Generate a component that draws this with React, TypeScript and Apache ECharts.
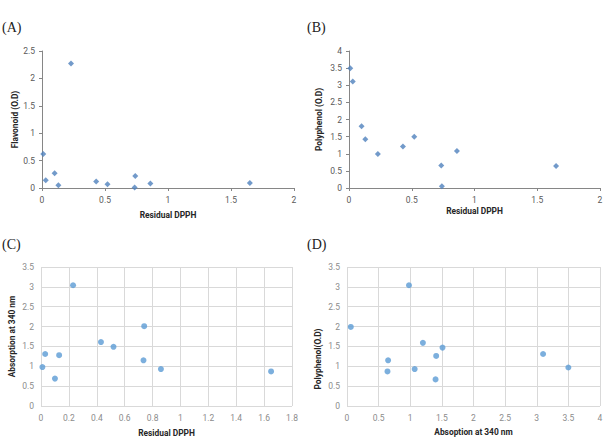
import React, { useEffect, useRef } from "react";
import * as echarts from "echarts";

const residualDPPH = [0.01, 0.03, 0.10, 0.13, 0.23, 0.43, 0.52, 0.735, 0.74, 0.86, 1.65];
const flavonoidOD = [0.62, 0.14, 0.27, 0.05, 2.27, 0.12, 0.07, 0.01, 0.22, 0.08, 0.09];
const polyphenolOD = [3.5, 3.11, 1.8, 1.42, 0.99, 1.21, 1.5, 0.66, 0.05, 1.08, 0.64];
const absorption340 = [0.98, 1.31, 0.69, 1.28, 3.04, 1.61, 1.49, 1.15, 2.01, 0.93, 0.87];
const absorptionD = [0.06, 0.65, 0.64, 0.98, 1.07, 1.2, 1.41, 1.4, 1.51, 3.1, 3.5];
const polyphenolD = [1.99, 1.15, 0.87, 3.04, 0.93, 1.59, 1.26, 0.67, 1.47, 1.31, 0.97];
const panelLabels = ["(A)", "(B)", "(C)", "(D)"];

const zip = (xs: number[], ys: number[]) => xs.map((x, i) => [x, ys[i]]);

const FONT = "'Liberation Sans Narrow', 'Roboto', 'Liberation Sans', sans-serif";

export default function App() {
  const ref = useRef<HTMLDivElement>(null);
  useEffect(() => {
    if (!ref.current) return;
    const chart = echarts.init(ref.current, undefined, { renderer: "svg" });

    const nameStyle = { fontFamily: FONT, fontWeight: "bold" as const, fontSize: 8.4, color: "#262626" };
    const oldLabel = { fontFamily: FONT, fontSize: 8.5, color: "#595959" };
    const newLabel = { fontFamily: FONT, fontSize: 8.5, color: "#8c8c8c" };

    const oldAxis = (gi: number, max: number, interval: number, name: string, gap: number) => ({
      type: "value", gridIndex: gi, min: 0, max, interval, name, nameLocation: "middle", nameGap: gap,
      nameTextStyle: nameStyle,
      axisLine: { show: true, lineStyle: { color: "#868686", width: 1 } },
      axisTick: { show: true, inside: false, length: 3, lineStyle: { color: "#868686" } },
      axisLabel: { ...oldLabel, margin: 7 },
      splitLine: { show: false },
    });
    const newAxis = (gi: number, max: number, interval: number, name: string, gap: number) => ({
      type: "value", gridIndex: gi, min: 0, max, interval, name, nameLocation: "middle", nameGap: gap,
      nameTextStyle: nameStyle,
      axisLine: { show: false },
      axisTick: { show: false },
      axisLabel: { ...newLabel, margin: 7 },
      splitLine: { show: true, lineStyle: { color: "#d9d9d9", width: 1 } },
    });

    const labelPos = [
      [2, 27],
      [307, 27],
      [2, 244],
      [307, 244],
    ];

    chart.setOption({
      animation: false,
      backgroundColor: "#ffffff",
      grid: [
        { left: 42, top: 51, width: 252, height: 137 },
        { left: 349, top: 51, width: 251, height: 137 },
        { left: 41, top: 267, width: 251, height: 139 },
        { left: 347, top: 267, width: 253, height: 139 },
      ],
      xAxis: [
        oldAxis(0, 2, 0.5, "Residual DPPH", 23),
        oldAxis(1, 2, 0.5, "Residual DPPH", 19),
        newAxis(2, 1.8, 0.2, "Residual DPPH", 23),
        newAxis(3, 4, 0.5, "Absoption at 340 nm", 22),
      ],
      yAxis: [
        oldAxis(0, 2.5, 0.5, "Flavonoid (O.D)", 23),
        oldAxis(1, 4, 0.5, "Polyphenol (O.D)", 26),
        newAxis(2, 3.5, 0.5, "Absorption at 340 nm", 25),
        { ...newAxis(3, 3.5, 0.5, "", 25), name: "" },
      ],
      graphic: [
        ...panelLabels.map((t, i) => ({
          type: "text",
          x: labelPos[i][0],
          y: labelPos[i][1],
          style: {
            text: t,
            fontFamily: "'Liberation Serif', 'DejaVu Serif', serif",
            fontSize: 14,
            fill: "#222",
            verticalAlign: "middle",
          },
        })),
        {
          type: "text",
          x: 318,
          y: 359,
          rotation: Math.PI / 2,
          style: {
            text: "Polyphenol(O.D)",
            fontFamily: FONT,
            fontWeight: "bold",
            fontSize: 8.4,
            fill: "#262626",
            align: "center",
            verticalAlign: "middle",
          },
        },
      ],
      series: [
        {
          type: "scatter", xAxisIndex: 0, yAxisIndex: 0, symbol: "diamond", symbolSize: 6,
          itemStyle: { color: "#4f81bd" }, data: zip(residualDPPH, flavonoidOD),
        },
        {
          type: "scatter", xAxisIndex: 1, yAxisIndex: 1, symbol: "diamond", symbolSize: 6,
          itemStyle: { color: "#4f81bd" }, data: zip(residualDPPH, polyphenolOD),
        },
        {
          type: "scatter", xAxisIndex: 2, yAxisIndex: 2, symbol: "circle", symbolSize: 6,
          itemStyle: { color: "#5b9bd5" }, data: zip(residualDPPH, absorption340),
        },
        {
          type: "scatter", xAxisIndex: 3, yAxisIndex: 3, symbol: "circle", symbolSize: 6,
          itemStyle: { color: "#5b9bd5" }, data: zip(absorptionD, polyphenolD),
        },
      ],
    });
    return () => chart.dispose();
  }, []);
  return (
    <div
      ref={ref}
      style={{ position: "fixed", left: 0, top: 0, width: 609, height: 441, background: "#fff" }}
    />
  );
}
